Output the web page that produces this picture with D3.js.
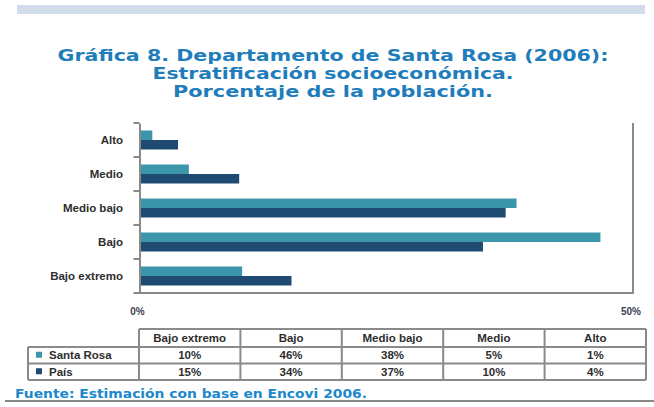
<!DOCTYPE html>
<html><head><meta charset="utf-8">
<script src="https://cdn.jsdelivr.net/npm/d3@7"></script>
<style>html,body{margin:0;padding:0;background:#fff;}svg{display:block;}</style>
</head><body>
<svg id="c" width="654" height="407"></svg>
<script>
// ---- data ----
const titleLines = ["Gráfica 8. Departamento de Santa Rosa (2006):", "Estratificación socioeconómica.", "Porcentaje de la población."];
const categories = ["Alto", "Medio", "Medio bajo", "Bajo", "Bajo extremo"]; // top to bottom in chart
const tableCategories = ["Bajo extremo", "Bajo", "Medio bajo", "Medio", "Alto"];
const seriesNames = ["Santa Rosa", "País"];
const santaRosa = [1.3, 5.0, 38.2, 46.7, 10.4]; // bar lengths (%), same order as categories
const pais = [3.9, 10.1, 37.1, 34.8, 15.4];
const tableSantaRosa = ["10%", "46%", "38%", "5%", "1%"];
const tablePais = ["15%", "34%", "37%", "10%", "4%"];
const xTicks = [0, 50];
const source = "Fuente: Estimación con base en Encovi 2006.";
const colors = ["#3b96ab", "#1f4a72"];

const svg = d3.select("#c");
// top band
svg.append("rect").attr("x", 17).attr("y", 5).attr("width", 628).attr("height", 9).attr("fill", "#d2ddec");

// title
const titleW = [551, 361, 320];
const titleY = [61, 79, 96.5];
svg.append("g").selectAll("text").data(titleLines).join("text")
  .attr("x", 333).attr("y", (d, i) => titleY[i])
  .attr("text-anchor", "middle")
  .attr("textLength", (d, i) => titleW[i]).attr("lengthAdjust", "spacingAndGlyphs")
  .attr("font-family", "DejaVu Sans").attr("font-weight", "bold").attr("font-size", 15)
  .attr("fill", "#1f7dbb").text(d => d);

// chart
const x = d3.scaleLinear().domain([0, 50]).range([139.5, 633]);
const y = d3.scaleBand().domain(categories).range([123, 293]);
const sub = d3.scaleBand().domain(seriesNames).range([0, 19]);
const offset = () => (y.bandwidth() - 19) / 2;

const g = svg.append("g");
const rows = categories.map((c, i) => ({c, v: [santaRosa[i], pais[i]]}));
rows.forEach(r => {
  r.v.forEach((v, k) => {
    g.append("rect")
      .attr("x", x(0)).attr("width", x(v) - x(0))
      .attr("y", y(r.c) + offset() + sub(seriesNames[k]))
      .attr("height", sub.bandwidth())
      .attr("fill", colors[k]);
  });
});

// right border
g.append("line").attr("x1", x(50)).attr("x2", x(50)).attr("y1", 123).attr("y2", 294)
  .attr("stroke", "#8a8a8a").attr("stroke-width", 2);
// bottom axis
g.append("line").attr("x1", 134).attr("x2", x(50)).attr("y1", 293).attr("y2", 293)
  .attr("stroke", "#8a8a8a").attr("stroke-width", 2);
// left axis
const yAxis = d3.axisLeft(y).tickSize(0).tickFormat("");
const ga = g.append("g").attr("transform", `translate(${x(0)},0)`).call(yAxis);
ga.select(".domain").attr("stroke", "#8a8a8a").attr("stroke-width", 2);
const edges = categories.map(c => y(c)).concat([293]);
g.selectAll(".edgeTick").data(edges).join("line")
  .attr("x1", x(0) - 6).attr("x2", x(0)).attr("y1", d => d).attr("y2", d => d)
  .attr("stroke", "#8a8a8a").attr("stroke-width", 2);
g.selectAll(".cat").data(categories).join("text")
  .attr("x", 123).attr("y", d => y(d) + y.bandwidth() / 2 + 0.5)
  .attr("dominant-baseline", "middle").attr("text-anchor", "end")
  .attr("font-family", "Liberation Sans").attr("font-weight", "bold").attr("font-size", 11.5)
  .attr("fill", "#2e2e2e").text(d => d);
g.selectAll(".xt").data(xTicks).join("text")
  .attr("x", d => x(d) - 2).attr("y", 315).attr("text-anchor", "middle")
  .attr("font-family", "Liberation Sans").attr("font-weight", "bold").attr("font-size", 10)
  .attr("fill", "#3a3f55").text(d => d + "%");

// table
const tx = d3.scaleBand().domain(tableCategories).range([139, 646]);
const rowsY = [329, 347, 363.5, 380];
const grid = svg.append("g").attr("stroke", "#8a8a8a").attr("stroke-width", 2).attr("fill", "none");
grid.append("line").attr("x1", 139).attr("x2", 646).attr("y1", rowsY[0]).attr("y2", rowsY[0]);
[1, 2, 3].forEach(i => grid.append("line").attr("x1", 28).attr("x2", 646).attr("y1", rowsY[i]).attr("y2", rowsY[i]));
grid.append("line").attr("x1", 28).attr("x2", 28).attr("y1", rowsY[1]).attr("y2", rowsY[3]);
tableCategories.concat([null]).forEach(c => {
  const xx = c === null ? 646 : tx(c);
  grid.append("line").attr("x1", xx).attr("x2", xx).attr("y1", rowsY[0]).attr("y2", rowsY[3]);
});
const tf = sel => sel.attr("font-family", "Liberation Sans").attr("font-weight", "bold").attr("font-size", 11.5).attr("fill", "#2e2e2e");
svg.append("g").selectAll("text").data(tableCategories).join("text")
  .attr("x", d => tx(d) + tx.bandwidth() / 2).attr("y", (rowsY[0] + rowsY[1]) / 2 + 0.5)
  .attr("text-anchor", "middle").attr("dominant-baseline", "middle").call(tf).text(d => d);
[tableSantaRosa, tablePais].forEach((vals, k) => {
  const cy = (rowsY[k + 1] + rowsY[k + 2]) / 2 + 1;
  svg.append("g").selectAll("text").data(vals).join("text")
    .attr("x", (d, i) => tx(tableCategories[i]) + tx.bandwidth() / 2).attr("y", cy)
    .attr("text-anchor", "middle").attr("dominant-baseline", "middle").call(tf).text(d => d);
  svg.append("rect").attr("x", 36).attr("y", cy - 4.5).attr("width", 6).attr("height", 6).attr("fill", colors[k]);
  svg.append("text").attr("x", 49).attr("y", cy).attr("dominant-baseline", "middle").call(tf).text(seriesNames[k]);
});

// source
svg.append("text").attr("x", 15).attr("y", 398)
  .attr("textLength", 352).attr("lengthAdjust", "spacingAndGlyphs")
  .attr("font-family", "DejaVu Sans").attr("font-weight", "bold").attr("font-size", 12)
  .attr("fill", "#1b88cc").text(source);
svg.append("line").attr("x1", 5).attr("x2", 654).attr("y1", 401).attr("y2", 401).attr("stroke", "#111").attr("stroke-width", 1.2);
</script>
</body></html>
